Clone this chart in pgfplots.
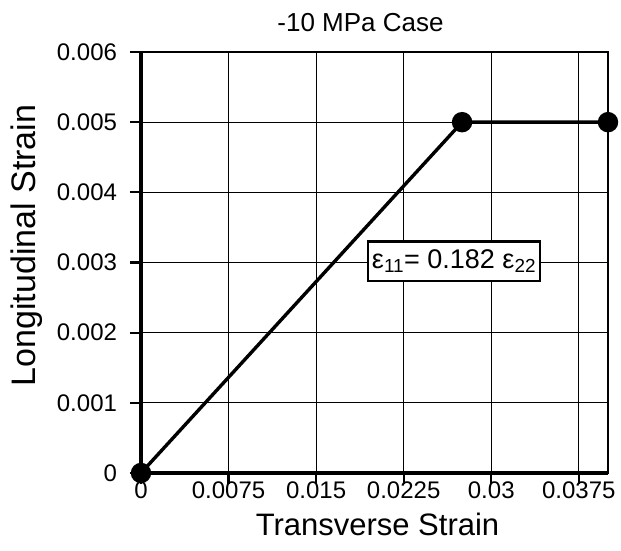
\documentclass[border=0pt]{standalone}
\usepackage{fontspec}
\setmainfont{Liberation Sans}
\usepackage{pgfplots}
\pgfplotsset{compat=1.18}
\begin{document}
\begin{tikzpicture}
\begin{axis}[
  scale only axis, width=467pt, height=421pt,
  xmin=0, xmax=0.04, ymin=0, ymax=0.006,
  xtick={0,0.0075,0.015,0.0225,0.03,0.0375},
  xticklabels={0,0.0075,0.015,0.0225,0.03,0.0375},
  ytick={0,0.001,0.002,0.003,0.004,0.005,0.006},
  yticklabels={0,0.001,0.002,0.003,0.004,0.005,0.006},
  scaled ticks=false,
  tick align=outside, tick pos=left,
  major tick length=11pt,
  every tick/.style={black, line width=2.2pt},
  grid=major, grid style={black, line width=1.2pt},
  axis line style={line width=1.6pt},
  ticklabel style={font=\fontsize{24}{26}\selectfont},
  xticklabel style={yshift=6pt},
  yticklabel style={xshift=-9.5pt},
  xlabel={Transverse Strain}, ylabel={Longitudinal Strain},
  xlabel style={font=\fontsize{31}{34}\selectfont, at={(axis description cs:0.5,0)}, anchor=base, yshift=-62pt, xshift=3pt},
  ylabel style={font=\fontsize{34}{37}\selectfont, at={(axis description cs:0,0.5)}, anchor=base, xshift=17pt, yshift=105pt},
  title={-10 MPa Case},
  title style={font=\fontsize{26}{28}\selectfont, at={(axis description cs:0.5,1)}, anchor=base, yshift=15pt, xshift=-14pt},
  clip=false,
]
\addplot[black, line width=3.4pt, mark=*, mark size=8.5pt] coordinates {
  (0,0) (0.0275,0.005) (0.04,0.005)
};
\draw[line width=3.4pt] (rel axis cs:0,1) -- (rel axis cs:0,0) -- (rel axis cs:1,0);
\node[draw, line width=2.6pt, fill=white, inner xsep=4pt, inner ysep=8pt, font=\fontsize{27}{29}\selectfont]
  at (axis cs:0.02681,0.00302) {ε\textsubscript{11}= 0.182 ε\textsubscript{22}};
\coordinate (O) at (rel axis cs:0,0);
\end{axis}
\pgfresetboundingbox
\path (O) ++(-141pt,-77pt) rectangle ++(621pt,550pt);
\end{tikzpicture}
\end{document}
